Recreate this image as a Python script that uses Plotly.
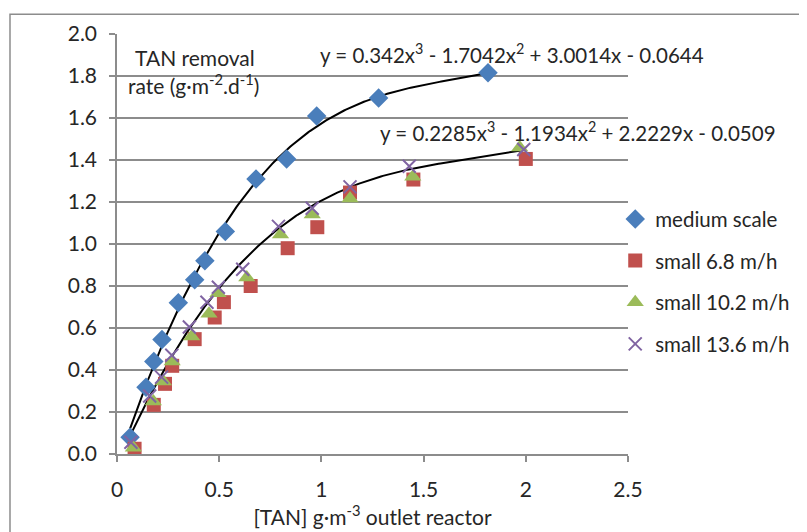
import numpy as np
import plotly.graph_objects as go

# ---- data ----
medium_x = [0.064, 0.142, 0.18, 0.22, 0.30, 0.38, 0.43, 0.53, 0.68, 0.83, 0.977, 1.28, 1.815]
medium_y = [0.08, 0.318, 0.44, 0.545, 0.72, 0.83, 0.92, 1.06, 1.31, 1.405, 1.61, 1.695, 1.816]

s68_x = [0.086, 0.18, 0.235, 0.27, 0.38, 0.478, 0.523, 0.654, 0.835, 0.98, 1.14, 1.45, 2.0]
s68_y = [0.025, 0.234, 0.334, 0.42, 0.547, 0.65, 0.723, 0.80, 0.98, 1.08, 1.245, 1.307, 1.405]

s102_x = [0.08, 0.178, 0.227, 0.27, 0.365, 0.45, 0.494, 0.635, 0.80, 0.955, 1.14, 1.447, 1.97]
s102_y = [0.03, 0.25, 0.345, 0.44, 0.56, 0.668, 0.765, 0.84, 1.045, 1.14, 1.217, 1.32, 1.46]

s136_x = [0.068, 0.16, 0.218, 0.268, 0.354, 0.44, 0.496, 0.615, 0.79, 0.955, 1.14, 1.43, 1.99]
s136_y = [0.056, 0.276, 0.366, 0.47, 0.605, 0.723, 0.794, 0.88, 1.084, 1.17, 1.272, 1.37, 1.45]

# trendline coefficients shown on the chart (highest power first)
coef_medium = [0.342, -1.7042, 3.0014, -0.0644]
coef_small = [0.2285, -1.1934, 2.2229, -0.0509]

x_ticks = [0, 0.5, 1, 1.5, 2, 2.5]
x_tick_labels = ["0", "0.5", "1", "1.5", "2", "2.5"]
y_ticks = [0.0, 0.2, 0.4, 0.6, 0.8, 1.0, 1.2, 1.4, 1.6, 1.8, 2.0]
y_tick_labels = ["0.0", "0.2", "0.4", "0.6", "0.8", "1.0", "1.2", "1.4", "1.6", "1.8", "2.0"]

FONT = "Lato, 'Open Sans', sans-serif"
GRID = "#8c8c8c"
FS = 21
FS_EQ = 20.5
FS_LEG = 20.5

fig = go.Figure()

# trendlines
xm = np.linspace(min(medium_x), max(medium_x), 200)
xs_all = s68_x + s102_x + s136_x
xs = np.linspace(min(xs_all), max(xs_all), 200)
fig.add_trace(go.Scatter(x=xm, y=np.polyval(coef_medium, xm), mode="lines",
                         line=dict(color="black", width=2), showlegend=False, hoverinfo="skip"))
fig.add_trace(go.Scatter(x=xs, y=np.polyval(coef_small, xs), mode="lines",
                         line=dict(color="black", width=2), showlegend=False, hoverinfo="skip"))

fig.add_trace(go.Scatter(x=medium_x, y=medium_y, mode="markers", name="medium scale",
                         legendgroup="a",
                         marker=dict(symbol="diamond", size=15, color="#4a7ebb")))
fig.add_trace(go.Scatter(x=s68_x, y=s68_y, mode="markers", name="small 6.8 m/h",
                         legendgroup="b",
                         marker=dict(symbol="square", size=14, color="#c0504d")))
fig.add_trace(go.Scatter(x=s102_x, y=s102_y, mode="markers", name="small 10.2 m/h",
                         legendgroup="c",
                         marker=dict(symbol="triangle-up", size=15, color="#9bbb59")))
fig.add_trace(go.Scatter(x=s136_x, y=s136_y, mode="markers", name="small 13.6 m/h",
                         legendgroup="d",
                         marker=dict(symbol="x-thin", size=13, color="#8064a2",
                                     line=dict(color="#8064a2", width=2))))

fig.update_layout(
    width=799, height=524,
    margin=dict(l=109, r=179, t=24, b=75),
    paper_bgcolor="white", plot_bgcolor="white",
    font=dict(family=FONT, size=FS, color="#262626"),
    xaxis=dict(range=[0, 2.5], tickvals=x_ticks, ticktext=x_tick_labels,
               showgrid=False, zeroline=False, showline=True, linecolor=GRID, linewidth=1.5,
               ticks="outside", ticklen=6, tickcolor=GRID, tickwidth=1.5,
               ticklabelstandoff=10,
               title=dict(text="[TAN] g·m<sup>-3</sup> outlet reactor", standoff=4,
                          font=dict(size=FS))),
    yaxis=dict(range=[0, 2.0], tickvals=y_ticks, ticktext=y_tick_labels,
               showgrid=True, gridcolor=GRID, gridwidth=1.5, zeroline=False,
               showline=True, linecolor=GRID, linewidth=1.5,
               ticks="outside", ticklen=6, tickcolor=GRID, tickwidth=1.5,
               ticklabelstandoff=8),
    legend=dict(x=0.975, y=0.607, xanchor="left", yanchor="top",
                traceorder="grouped", tracegroupgap=12,
                font=dict(size=FS_LEG), itemwidth=30, bgcolor="rgba(0,0,0,0)"),
    showlegend=True,
)

# outer chart border (extends beyond the cropped image)
fig.add_shape(type="rect", xref="paper", yref="paper",
              x0=-0.2094, y0=-0.4, x1=1.7, y1=1.047,
              line=dict(color=GRID, width=1.5), layer="below")

fig.add_annotation(x=0.032, y=0.943, xref="paper", yref="paper", xanchor="left", yanchor="middle",
                   text="TAN removal", showarrow=False, font=dict(size=FS))
fig.add_annotation(x=0.018, y=0.882, xref="paper", yref="paper", xanchor="left", yanchor="middle",
                   text="rate (g·m<sup>-2</sup>.d<sup>-1</sup>)", showarrow=False, font=dict(size=FS))
fig.add_annotation(x=0.393, y=0.953, xref="paper", yref="paper", xanchor="left", yanchor="middle",
                   text="y = 0.342x<sup>3</sup> - 1.7042x<sup>2</sup> + 3.0014x - 0.0644",
                   showarrow=False, font=dict(size=FS_EQ))
fig.add_annotation(x=0.51, y=0.769, xref="paper", yref="paper", xanchor="left", yanchor="middle",
                   text="y = 0.2285x<sup>3</sup> - 1.1934x<sup>2</sup> + 2.2229x - 0.0509",
                   showarrow=False, font=dict(size=FS_EQ))

fig.write_html("out.html")
